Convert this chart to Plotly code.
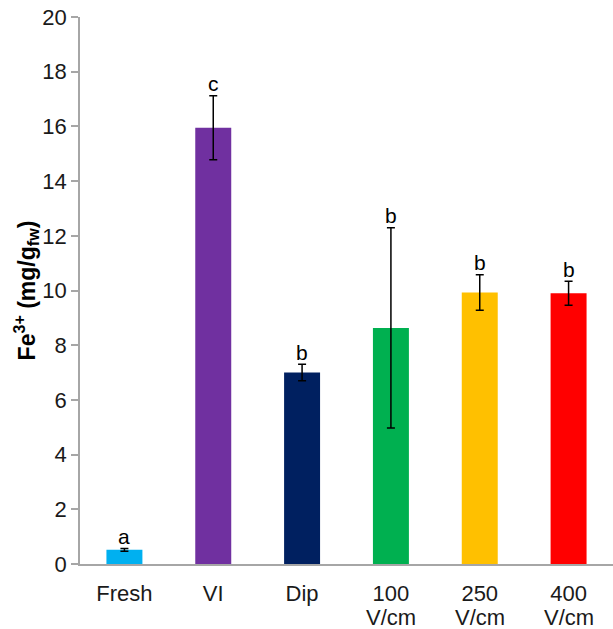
import plotly.graph_objects as go

categories = ["Fresh", "VI", "Dip", "100 V/cm", "250 V/cm", "400 V/cm"]
label_line1 = ["Fresh", "VI", "Dip", "100", "250", "400"]
label_line2 = ["", "", "", "V/cm", "V/cm", "V/cm"]
values = [0.52, 15.95, 7.0, 8.63, 9.93, 9.9]
errors = [0.05, 1.17, 0.3, 3.66, 0.65, 0.44]
letters = ["a", "c", "b", "b", "b", "b"]
colors = ["#00B0F0", "#7030A0", "#002060", "#00B050", "#FFC000", "#FF0000"]
y_ticks = [0, 2, 4, 6, 8, 10, 12, 14, 16, 18, 20]

FONT = "Liberation Sans, Arial, sans-serif"
AXIS_GRAY = "#A6A6A6"
LABEL_COLOR = "#1a1a1a"

fig = go.Figure()
fig.add_trace(go.Bar(
    x=categories,
    y=values,
    width=0.405,
    marker=dict(color=colors, line=dict(width=0)),
    error_y=dict(type="data", array=errors, visible=True,
                 color="black", thickness=1.5, width=4),
    showlegend=False,
))

for c, v, e, l in zip(categories, values, errors, letters):
    fig.add_annotation(x=c, y=v + e, text=l, showarrow=False,
                       yanchor="middle", yshift=12,
                       font=dict(family=FONT, size=21, color="black"))

for c, t in zip(categories, label_line2):
    if t:
        fig.add_annotation(x=c, xref="x", y=0, yref="paper", text=t,
                           showarrow=False, yanchor="middle", yshift=-53,
                           font=dict(family=FONT, size=22, color=LABEL_COLOR))

fig.update_layout(
    width=613, height=629,
    margin=dict(l=80, r=0, t=17, b=65),
    plot_bgcolor="white", paper_bgcolor="white",
    font=dict(family=FONT, size=22, color="black"),
)
fig.update_xaxes(
    type="category",
    range=[-0.5, 5.5],
    tickvals=categories, ticktext=label_line1,
    showline=True, linecolor=AXIS_GRAY, linewidth=1.5,
    ticks="", showgrid=False,
    ticklabelstandoff=9,
    tickfont=dict(family=FONT, size=22, color=LABEL_COLOR),
    automargin=False,
)
fig.update_yaxes(
    range=[0, 20],
    tickvals=y_ticks,
    showline=True, linecolor=AXIS_GRAY, linewidth=1.5,
    ticks="outside", ticklen=7, tickcolor=AXIS_GRAY, tickwidth=1.5,
    showgrid=False, zeroline=False,
    tickfont=dict(family=FONT, size=22, color=LABEL_COLOR),
    title=dict(text="<b>Fe<sup>3+</sup> (mg/g<sub>fw</sub>)</b>",
               font=dict(family=FONT, size=23, color="black"),
               standoff=0),
    automargin=False,
)

fig.write_html("out.html",
               config={"displayModeBar": False},
               post_script="document.body.style.margin='0';document.body.style.overflow='hidden';")
